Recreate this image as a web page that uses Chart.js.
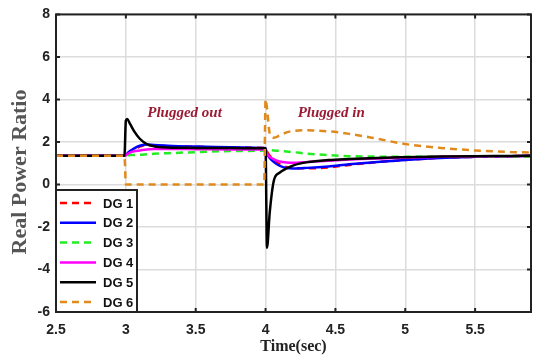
<!DOCTYPE html>
<html>
<head>
<meta charset="utf-8">
<script src="https://cdn.jsdelivr.net/npm/chart.js@4.4.1/dist/chart.umd.min.js"></script>
<style>
  html, body { margin: 0; padding: 0; background: #fff; }
  #wrap { width: 533px; height: 356px; }
</style>
</head>
<body>
<div id="wrap"><canvas id="myChart" width="533" height="356"></canvas></div>
<script>
// time axis (sec)
const time = [2.5, 2.99, 3.0, 3.01, 3.03, 3.06, 3.1, 3.15, 3.2, 3.3, 3.5, 3.75, 3.99, 4.0, 4.01, 4.03, 4.06, 4.1, 4.15, 4.2, 4.3, 4.45, 4.6, 4.8, 5.0, 5.25, 5.5, 5.75, 5.9];

const dg1 = [1.35, 1.35, 1.38, 1.45, 1.55, 1.65, 1.78, 1.85, 1.84, 1.8, 1.77, 1.74, 1.72, 1.7, 1.55, 1.35, 1.15, 0.95, 0.82, 0.77, 0.76, 0.8, 0.92, 1.05, 1.15, 1.25, 1.3, 1.33, 1.35];
const dg2 = [1.35, 1.35, 1.38, 1.45, 1.57, 1.7, 1.82, 1.88, 1.86, 1.82, 1.78, 1.75, 1.72, 1.7, 1.45, 1.25, 1.05, 0.88, 0.77, 0.75, 0.78, 0.85, 0.95, 1.06, 1.15, 1.25, 1.3, 1.33, 1.35];
const dg3 = [1.35, 1.35, 1.36, 1.37, 1.38, 1.39, 1.4, 1.42, 1.44, 1.47, 1.52, 1.57, 1.6, 1.62, 1.62, 1.61, 1.6, 1.58, 1.55, 1.52, 1.45, 1.38, 1.33, 1.31, 1.3, 1.3, 1.3, 1.3, 1.3];
const dg4 = [1.35, 1.35, 1.37, 1.42, 1.5, 1.56, 1.6, 1.65, 1.67, 1.67, 1.66, 1.65, 1.64, 1.62, 1.45, 1.3, 1.18, 1.08, 1.03, 1.02, 1.06, 1.12, 1.17, 1.22, 1.27, 1.3, 1.32, 1.33, 1.34];
const dg5 = [1.35, 1.35, 3.0, 3.08, 2.85, 2.5, 2.15, 1.9, 1.8, 1.74, 1.72, 1.71, 1.7, 1.7, -2.98, -1.3, 0.2, 0.55, 0.75, 0.9, 1.05, 1.15, 1.2, 1.25, 1.28, 1.31, 1.33, 1.34, 1.35];
const dg6 = [1.35, 1.35, 0, 0, 0, 0, 0, 0, 0, 0, 0, 0, 0, 4.0, 3.6, 2.4, 2.2, 2.3, 2.45, 2.52, 2.55, 2.5, 2.38, 2.15, 1.9, 1.72, 1.6, 1.53, 1.5];

const names = ["DG 1", "DG 2", "DG 3", "DG 4", "DG 5", "DG 6"];
const xTicks = [2.5, 3, 3.5, 4, 4.5, 5, 5.5];
const yTicks = [-6, -4, -2, 0, 2, 4, 6, 8];

// annotation texts with their data positions
const notes = [
  { text: "Plugged out", x: 3.42, y: 3.35 },
  { text: "Plugged in", x: 4.47, y: 3.35 }
];

const series = [dg1, dg2, dg3, dg4, dg5, dg6];
const colors = ["#ff0000", "#0000ff", "#22ee22", "#ff00ff", "#000000", "#e08a1e"];
const dashed = [true, false, true, false, false, true];

const datasets = series.map((s, i) => ({
  label: names[i],
  data: s.map((v, k) => ({ x: time[k], y: v })),
  borderColor: colors[i],
  borderWidth: 2.5,
  borderDash: dashed[i] ? [7, 5] : [],
  pointRadius: 0,
  fill: false,
  cubicInterpolationMode: "monotone",
  order: 6 - i
}));

const framePlugin = {
  id: "frame",
  afterDatasetsDraw(chart) {
    const { ctx, chartArea: a, scales } = chart;
    ctx.save();
    ctx.strokeStyle = "#222";
    ctx.lineWidth = 2;
    ctx.strokeRect(a.left, a.top, a.right - a.left, a.bottom - a.top);
    xTicks.forEach(v => {
      const px = scales.x.getPixelForValue(v);
      ctx.beginPath();
      ctx.moveTo(px, a.bottom); ctx.lineTo(px, a.bottom - 4);
      ctx.moveTo(px, a.top); ctx.lineTo(px, a.top + 4);
      ctx.stroke();
    });
    yTicks.forEach(v => {
      const py = scales.y.getPixelForValue(v);
      ctx.beginPath();
      ctx.moveTo(a.left, py); ctx.lineTo(a.left + 4, py);
      ctx.moveTo(a.right, py); ctx.lineTo(a.right - 4, py);
      ctx.stroke();
    });

    // y axis title, drawn a bit below the axis centre like the original
    ctx.save();
    ctx.translate(20, 172);
    ctx.rotate(-Math.PI / 2);
    ctx.fillStyle = "#555";
    ctx.font = "bold 22px 'Liberation Serif', 'Times New Roman', serif";
    ctx.textAlign = "center";
    ctx.textBaseline = "middle";
    ctx.fillText("Real Power Ratio", 0, 0);
    ctx.restore();

    // annotations
    ctx.fillStyle = "#9b1b35";
    ctx.font = "italic bold 15px 'Liberation Serif', 'Times New Roman', serif";
    ctx.textAlign = "center";
    ctx.textBaseline = "middle";
    notes.forEach(n => {
      ctx.fillText(n.text, scales.x.getPixelForValue(n.x), scales.y.getPixelForValue(n.y));
    });

    // legend box
    const lx = 56, ly = 190, lw = 81, lh = 122;
    ctx.fillStyle = "#fff";
    ctx.fillRect(lx, ly, lw, lh);
    ctx.strokeStyle = "#222";
    ctx.lineWidth = 2;
    ctx.strokeRect(lx, ly, lw, lh);
    ctx.font = "bold 13px 'Liberation Sans', Arial, sans-serif";
    ctx.textAlign = "left";
    names.forEach((nm, i) => {
      const yy = ly + 13 + i * 19.8;
      ctx.beginPath();
      ctx.strokeStyle = colors[i];
      ctx.lineWidth = 2.5;
      ctx.setLineDash(dashed[i] ? [7, 5] : []);
      ctx.moveTo(lx + 4, yy); ctx.lineTo(lx + 40, yy);
      ctx.stroke();
      ctx.setLineDash([]);
      ctx.fillStyle = "#111";
      ctx.fillText(nm, lx + 47, yy + 1);
    });
    ctx.restore();
  }
};

new Chart("myChart", {
  type: "line",
  data: { datasets: datasets },
  options: {
    responsive: false,
    animation: false,
    layout: { padding: { top: 12, right: 2, left: 0, bottom: 0 } },
    plugins: { legend: { display: false }, tooltip: { enabled: false } },
    scales: {
      x: {
        type: "linear",
        min: 2.5,
        max: 5.9,
        afterBuildTicks: s => { s.ticks = xTicks.map(v => ({ value: v })); },
        afterFit: s => { s.height = 44; },
        grid: { color: "#dcdcdc", lineWidth: 1.5, drawTicks: false },
        border: { display: false },
        ticks: {
          padding: 10,
          color: "#222",
          font: { family: "'Liberation Sans', Arial, sans-serif", size: 14, weight: "bold" },
          callback: v => String(v)
        },
        title: {
          display: true,
          text: "Time(sec)",
          color: "#222",
          padding: { top: 0, bottom: 0 },
          font: { family: "'Liberation Serif', 'Times New Roman', serif", size: 16, weight: "bold" }
        }
      },
      y: {
        min: -6,
        max: 8,
        afterBuildTicks: s => { s.ticks = yTicks.map(v => ({ value: v })); },
        afterFit: s => { s.width = 56; },
        grid: { color: "#dcdcdc", lineWidth: 1.5, drawTicks: false },
        border: { display: false },
        ticks: {
          padding: 6,
          color: "#222",
          font: { family: "'Liberation Sans', Arial, sans-serif", size: 14, weight: "bold" },
          callback: v => String(v)
        }
      }
    }
  },
  plugins: [framePlugin]
});
</script>
</body>
</html>
